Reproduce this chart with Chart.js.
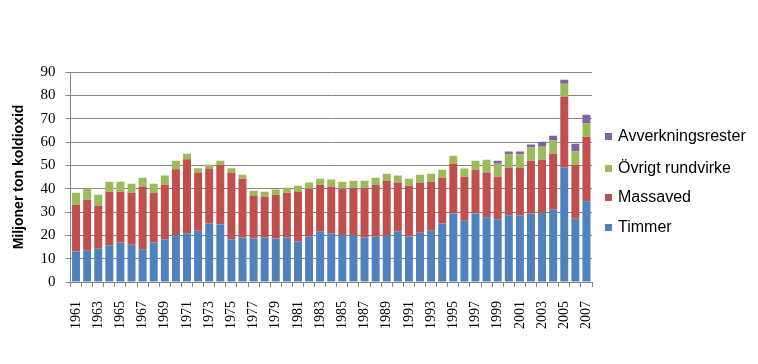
<!DOCTYPE html>
<html>
<head>
<meta charset="utf-8">
<script src="https://cdn.jsdelivr.net/npm/chart.js@4"></script>
<style>
    body { margin: 0; background: #ffffff; }
    #wrap { position: relative; width: 758px; height: 364px; }
    #legend { position: absolute; left: 605px; top: 0; font-family: "Liberation Sans", Arial, sans-serif; font-size: 16px; color: #000; }
    .item { position: absolute; left: 0; white-space: nowrap; line-height: 18px; }
    .box { display: inline-block; width: 7px; height: 7px; margin-right: 6px; vertical-align: 1px; }
</style>
</head>
<body>
<div id="wrap">
    <canvas id="koldioxid" width="758" height="364"></canvas>
    <div id="legend"></div>
</div>
<script>
const years = [];
for (let y = 1961; y <= 2007; y++) years.push(String(y));

// miljoner ton koldioxid
const timmer = [13.1, 13.4, 14.3, 15.7, 16.9, 16.0, 14.0, 16.9, 18.3, 20.0,
    20.9, 22.0, 25.1, 24.6, 18.3, 19.1, 18.6, 19.1, 18.6, 19.1,
    17.4, 19.4, 21.7, 20.9, 20.0, 20.0, 19.1, 19.4, 20.0, 21.7,
    19.4, 21.1, 22.0, 25.1, 29.4, 26.3, 29.4, 27.7, 26.9, 28.6,
    28.6, 29.4, 29.7, 31.1, 49.1, 27.1, 34.6];
const massaved = [20.0, 21.9, 18.4, 23.0, 21.8, 22.3, 26.9, 21.4, 23.4, 28.3,
    31.7, 24.9, 23.5, 25.7, 28.6, 25.2, 18.5, 17.5, 18.8, 19.2,
    21.3, 20.6, 20.0, 20.0, 20.0, 20.4, 21.3, 22.3, 23.4, 20.9,
    21.9, 21.5, 21.0, 19.6, 21.3, 18.8, 18.7, 19.2, 18.2, 20.4,
    20.4, 22.6, 22.7, 23.9, 30.3, 23.2, 27.7];
const ovrigtRundvirke = [5.2, 4.8, 4.7, 4.3, 4.3, 3.8, 3.8, 3.8, 3.9, 3.7,
    2.4, 1.8, 1.7, 1.7, 1.8, 1.7, 2.0, 2.1, 2.2, 2.1,
    2.6, 2.6, 2.6, 3.0, 3.0, 3.0, 3.0, 3.0, 3.0, 3.0,
    3.0, 3.4, 3.4, 3.4, 3.4, 3.5, 3.9, 5.5, 5.6, 5.6,
    5.6, 5.6, 5.6, 5.6, 5.6, 5.6, 5.6];
const avverkningsrester = [null, null, null, null, null, null, null, null, null, null,
    null, null, null, null, null, null, null, null, null, null,
    null, null, null, null, null, null, null, null, null, null,
    null, null, null, null, null, null, null, null, 1.3, 1.3,
    1.3, 1.3, 2.1, 2.1, 1.7, 3.4, 3.8];

const seriesNames = ["Timmer", "Massaved", "Övrigt rundvirke", "Avverkningsrester"];
const seriesColors = ["#4F81BD", "#C0504D", "#9BBB59", "#8064A2"];
const seriesValues = [timmer, massaved, ovrigtRundvirke, avverkningsrester];

const yTicks = [0, 10, 20, 30, 40, 50, 60, 70, 80, 90];
const gridColor = "#868686";

const datasets = seriesNames.map((name, i) => ({
    label: name,
    data: seriesValues[i],
    backgroundColor: seriesColors[i],
    borderWidth: 0,
    barPercentage: 0.72,
    categoryPercentage: 1.0
}));

new Chart(document.getElementById("koldioxid").getContext("2d"), {
    type: 'bar',
    data: { labels: years, datasets: datasets },
    options: {
        responsive: false,
        animation: false,
        layout: { padding: { top: 72, right: 166, bottom: 0, left: 0 } },
        plugins: {
            legend: { display: false },
            tooltip: { enabled: false }
        },
        scales: {
            x: {
                stacked: true,
                afterFit: (scale) => { scale.height = 82; },
                grid: {
                    offset: true,
                    drawOnChartArea: false,
                    drawTicks: true,
                    tickLength: 5,
                    color: gridColor
                },
                border: { color: gridColor },
                ticks: {
                    autoSkip: false,
                    minRotation: 90,
                    maxRotation: 90,
                    padding: 14,
                    color: '#000',
                    font: { family: '"Liberation Serif", "Times New Roman", serif', size: 14 },
                    callback: function (value, index) {
                        return index % 2 === 0 ? this.getLabelForValue(value) : '';
                    }
                }
            },
            y: {
                stacked: true,
                min: 0,
                max: 90,
                afterFit: (scale) => { scale.width = 70.5; },
                afterBuildTicks: (scale) => { scale.ticks = yTicks.map(v => ({ value: v })); },
                grid: { color: gridColor, tickLength: 5 },
                border: { color: gridColor },
                ticks: {
                    padding: 10,
                    color: '#000',
                    font: { family: '"Liberation Serif", "Times New Roman", serif', size: 15 }
                },
                title: {
                    display: true,
                    text: 'Miljoner ton koldioxid',
                    color: '#000',
                    padding: { top: 11, bottom: 0 },
                    font: { family: '"Liberation Sans", Arial, sans-serif', size: 14, weight: 'bold' }
                }
            }
        }
    }
});

// legend, same order as in the picture (top = last series)
const legendRows = [136, 168, 197, 227];
const legendEl = document.getElementById("legend");
for (let i = seriesNames.length - 1, r = 0; i >= 0; i--, r++) {
    const item = document.createElement("div");
    item.className = "item";
    item.style.top = (legendRows[r] - 9) + "px";
    item.innerHTML = `<span class="box" style="background:${seriesColors[i]}"></span>${seriesNames[i]}`;
    legendEl.appendChild(item);
}
</script>
</body>
</html>
